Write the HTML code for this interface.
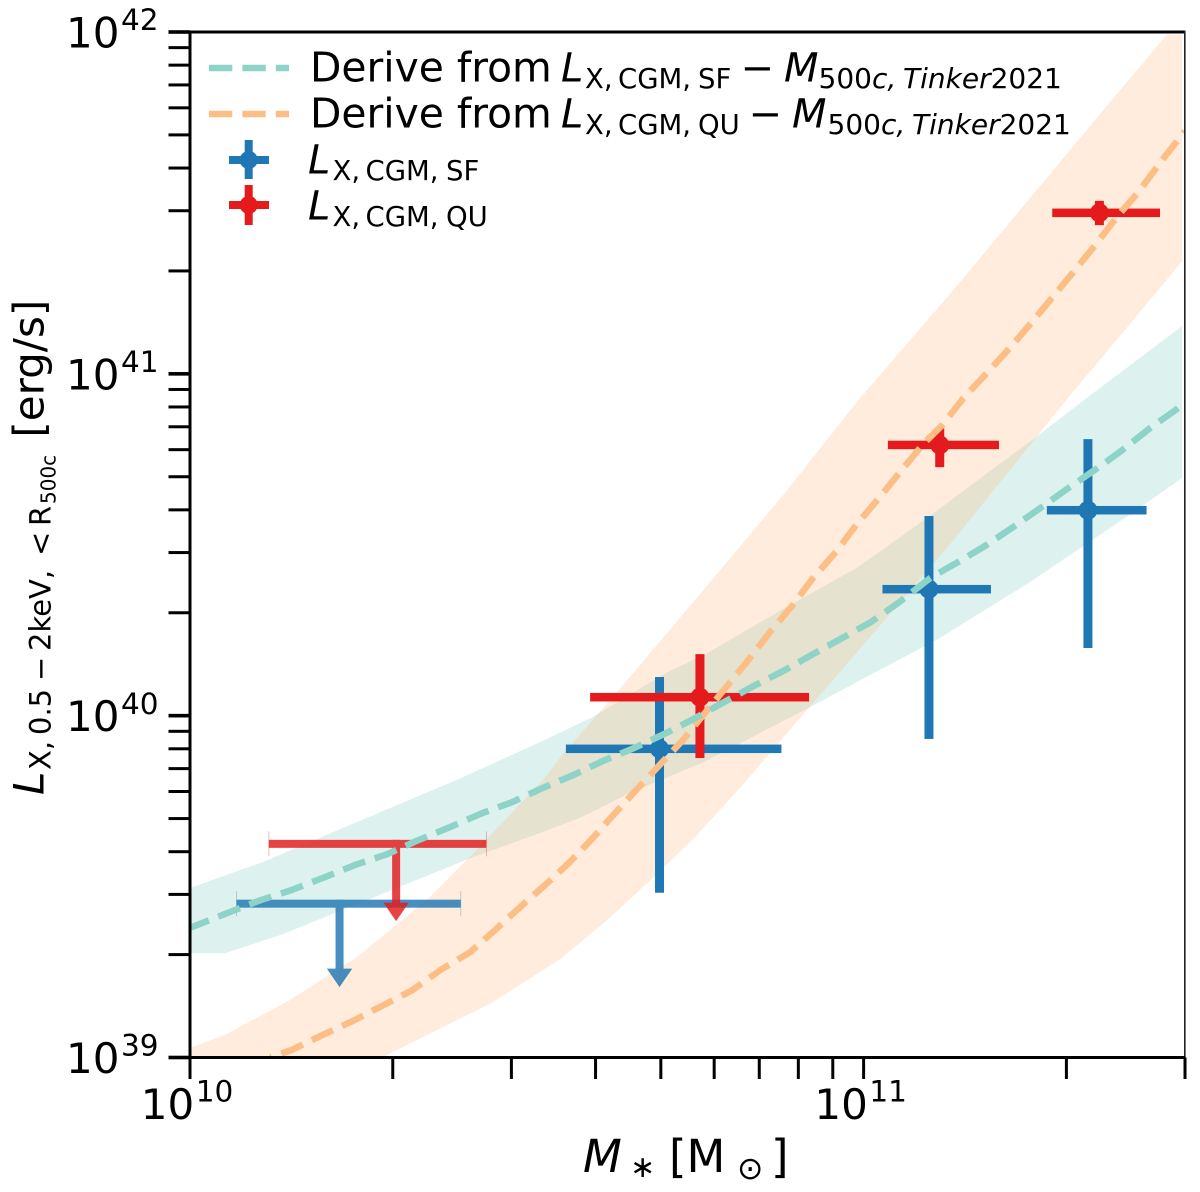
<!DOCTYPE html>
<html lang="en">
<head>
<meta charset="utf-8">
<title>X-ray CGM luminosity vs stellar mass</title>
<style>
html,body{margin:0;padding:0;background:#fff;}
svg{display:block;font-family:"DejaVu Sans","Liberation Sans",sans-serif;fill:#000;}
</style>
</head>
<body>
<svg id="chart" xmlns="http://www.w3.org/2000/svg" width="1200" height="1192" viewBox="0 0 1200 1192">
  <defs>
    <clipPath id="band-clip"><rect x="191.5" y="34.5" width="990.5" height="1022"></rect></clipPath>
    <clipPath id="line-clip"><rect x="190" y="32" width="995" height="1026"></rect></clipPath>
  </defs>
  <g id="bands" clip-path="url(#band-clip)"></g>
  <g id="errorbars"></g>
  <g id="lines" clip-path="url(#line-clip)"></g>
  <g id="axes"></g>

  <g font-size="45">
    <text x="583" y="1172" font-style="italic">M</text>
    <text x="630" y="1177" font-size="30">∗</text>
    <text x="669" y="1172">[M</text>
    <text x="737" y="1179" font-size="31.5">⊙</text>
    <text x="771" y="1172">]</text>
  </g>

  <g transform="translate(43.3,794) rotate(-90)" font-size="42">
    <text x="-1" y="0" font-style="italic">L</text>
    <text x="24" y="7.4" font-size="29">X,</text>
    <text x="59" y="7.4" font-size="29">0.5</text>
    <text x="113" y="7.4" font-size="29">−</text>
    <text x="143" y="7.4" font-size="29">2keV,</text>
    <text x="238" y="7.4" font-size="29">&lt;</text>
    <text x="268" y="7.4" font-size="29">R</text>
    <text x="290" y="12.2" font-size="20">500c</text>
    <text x="356.4" y="0">[erg/s]</text>
  </g>

  <g>
    <g>
      <line x1="209" y1="68" x2="289" y2="68" stroke="#8dd3c7" stroke-width="6.5" stroke-dasharray="23.3 10.1"></line>
      <text x="310" y="81.7" font-size="40.8">Derive from</text>
      <text x="561" y="81.7" font-size="40" font-style="italic">L</text>
      <text x="585" y="88" font-size="27.5">X,</text>
      <text x="618" y="88" font-size="27.5">CGM,</text>
      <text x="698" y="88" font-size="27.5">SF</text>
      <text x="740.5" y="81.7" font-size="40">−</text>
      <text x="784" y="81.7" font-size="40" font-style="italic">M</text>
      <text x="818.5" y="88" font-size="28">500<tspan font-style="italic">c,</tspan></text>
      <text x="903" y="88" font-size="28"><tspan font-style="italic">Tinker</tspan>2021</text>
    </g>
    <g>
      <line x1="209" y1="114" x2="289" y2="114" stroke="#fdbe85" stroke-width="6.5" stroke-dasharray="23.3 10.1"></line>
      <text x="310" y="127.7" font-size="40.8">Derive from</text>
      <text x="561" y="127.7" font-size="40" font-style="italic">L</text>
      <text x="585" y="134" font-size="27.5">X,</text>
      <text x="618" y="134" font-size="27.5">CGM,</text>
      <text x="698" y="134" font-size="27.5">QU</text>
      <text x="748.5" y="127.7" font-size="40">−</text>
      <text x="792" y="127.7" font-size="40" font-style="italic">M</text>
      <text x="827.5" y="134" font-size="28">500<tspan font-style="italic">c,</tspan></text>
      <text x="912" y="134" font-size="28"><tspan font-style="italic">Tinker</tspan>2021</text>
    </g>
    <g>
      <g fill="#1f77b4" stroke="none">
        <rect x="229" y="156" width="40" height="8"></rect>
        <rect x="244.7" y="140" width="8" height="39"></rect>
        <circle cx="248.7" cy="160" r="9"></circle>
      </g>
      <text x="308" y="173.5" font-size="40" font-style="italic">L</text>
      <text x="332.5" y="180" font-size="27.5">X,</text>
      <text x="365.5" y="180" font-size="27.5">CGM,</text>
      <text x="446" y="180" font-size="27.5">SF</text>
    </g>
    <g>
      <g fill="#e41a1c" stroke="none">
        <rect x="229" y="201" width="40" height="8"></rect>
        <rect x="244.7" y="185" width="8" height="40"></rect>
        <circle cx="248.7" cy="205" r="9"></circle>
      </g>
      <text x="308" y="219.3" font-size="40" font-style="italic">L</text>
      <text x="332.5" y="226" font-size="27.5">X,</text>
      <text x="365.5" y="226" font-size="27.5">CGM,</text>
      <text x="446" y="226" font-size="27.5">QU</text>
    </g>
  </g>
</svg>

<script>
// All masses and luminosities below are log10 values.
const xDomain = [10, 11.4771];
const yDomain = [39, 42];
const xMajorExponents = [10, 11];
const yMajorExponents = [39, 40, 41, 42];
const minorMultiples = [2, 3, 4, 5, 6, 7, 8, 9];
const tickBase = "10";

const sfLineMass = [10.000,10.048,10.104,10.151,10.197,10.245,10.293,10.339,10.386,10.434,10.478,10.523,10.569,10.616,10.659,10.707,10.753,10.793,10.840,10.883,10.922,10.968,11.011,11.053,11.099,11.140,11.180,11.222,11.262,11.304,11.347,11.384,11.425,11.463,11.477];
const sfLineLum = [39.379,39.417,39.460,39.490,39.525,39.563,39.595,39.636,39.674,39.715,39.747,39.788,39.826,39.870,39.905,39.949,39.996,40.040,40.090,40.133,40.177,40.227,40.274,40.332,40.403,40.449,40.496,40.552,40.607,40.666,40.724,40.777,40.841,40.894,40.918];
const sfUpperMass = [10.000,10.108,10.212,10.301,10.396,10.520,10.598,10.707,10.768,10.883,10.992,11.096,11.186,11.250,11.329,11.477];
const sfUpperLum = [39.496,39.572,39.659,39.733,39.812,39.923,39.996,40.125,40.183,40.315,40.435,40.581,40.713,40.806,40.926,41.146];
const sfLowerMass = [10.000,10.052,10.134,10.218,10.307,10.416,10.520,10.581,10.653,10.762,10.907,11.004,11.108,11.247,11.399,11.477];
const sfLowerLum = [39.305,39.305,39.358,39.425,39.496,39.583,39.657,39.703,39.774,39.864,40.011,40.113,40.221,40.391,40.593,40.701];

const quLineMass = [10.119,10.151,10.197,10.242,10.287,10.330,10.374,10.416,10.453,10.490,10.532,10.564,10.598,10.631,10.665,10.701,10.732,10.762,10.796,10.829,10.860,10.895,10.925,10.959,10.989,11.023,11.053,11.090,11.117,11.148,11.183,11.218,11.250,11.281,11.314,11.344,11.376,11.408,11.440,11.477];
const quLineLum = [39.001,39.022,39.066,39.107,39.153,39.197,39.259,39.308,39.373,39.440,39.513,39.572,39.642,39.715,39.788,39.864,39.929,40.002,40.084,40.163,40.242,40.324,40.403,40.479,40.558,40.637,40.710,40.798,40.850,40.929,41.002,41.078,41.152,41.225,41.304,41.377,41.459,41.532,41.617,41.710];
const quUpperMass = [10.000,10.052,10.148,10.248,10.356,10.411,10.524,10.555,10.634,10.762,10.883,10.992,11.128,11.252,11.351,11.451,11.477];
const quUpperLum = [39.028,39.066,39.168,39.294,39.469,39.578,39.812,39.891,40.069,40.367,40.651,40.923,41.233,41.526,41.760,41.994,42.060];
const quLowerMass = [10.000,10.208,10.285,10.346,10.450,10.552,10.619,10.647,10.695,10.750,10.823,10.907,11.035,11.137,11.302,11.400,11.477];
const quLowerLum = [38.788,38.934,39.000,39.060,39.162,39.291,39.402,39.452,39.540,39.645,39.803,39.996,40.288,40.522,40.926,41.157,41.339];

const sfPointMass = [10.697,11.097,11.333];
const sfPointMassLow = [10.558,11.028,11.272];
const sfPointMassHigh = [10.878,11.189,11.420];
const sfPointLum = [39.903,40.370,40.601];
const sfPointLumLow = [39.482,39.932,40.198];
const sfPointLumHigh = [40.113,40.584,40.809];

const quPointMass = [10.757,11.113,11.350];
const quPointMassLow = [10.594,11.036,11.280];
const quPointMassHigh = [10.919,11.201,11.440];
const quPointLum = [40.054,40.792,41.471];
const quPointLumLow = [39.876,40.727,41.435];
const quPointLumHigh = [40.180,40.841,41.506];

const limitSfMass = [10.222];
const limitSfMassLow = [10.069];
const limitSfMassHigh = [10.402];
const limitSfLum = [39.450];
const limitSfTip = [39.206];

const limitQuMass = [10.306];
const limitQuMassLow = [10.117];
const limitQuMassHigh = [10.440];
const limitQuLum = [39.625];
const limitQuTip = [39.399];

const plotLeft = 190, plotRight = 1185, plotTop = 32, plotBottom = 1057.5;
function xScale(v){ return plotLeft + (v - xDomain[0]) / (xDomain[1] - xDomain[0]) * (plotRight - plotLeft); }
function yScale(v){ return plotBottom - (v - yDomain[0]) / (yDomain[1] - yDomain[0]) * (plotBottom - plotTop); }

const NS = "http://www.w3.org/2000/svg";
function mk(parent, tag, attrs){
  const el = document.createElementNS(NS, tag);
  for (const k in attrs) el.setAttribute(k, attrs[k]);
  parent.appendChild(el);
  return el;
}
function pts(xs, ys){ return xs.map((x, i) => xScale(x).toFixed(1) + "," + yScale(ys[i]).toFixed(1)).join(" "); }
function rev(a){ return a.slice().reverse(); }

const bands = document.getElementById("bands");
const errorbars = document.getElementById("errorbars");
const lines = document.getElementById("lines");
const axes = document.getElementById("axes");

// Bands
{
  const el = mk(bands, "polygon", {points: pts(sfUpperMass.concat(rev(sfLowerMass)), sfUpperLum.concat(rev(sfLowerLum))), fill: "#8dd3c7", "fill-opacity": 0.3});
  
  
}
{
  const el = mk(bands, "polygon", {points: pts(quUpperMass.concat(rev(quLowerMass)), quUpperLum.concat(rev(quLowerLum))), fill: "#fdae6b", "fill-opacity": 0.24});
  
  
}

// Upper limits
function drawLimit(xc, xlo, xhi, y, tip, color){
  const g = mk(errorbars, "g", {fill: color, opacity: 0.82});
  const yy = yScale(y), tipY = yScale(tip), cx = xScale(xc), x0 = xScale(xlo), x1 = xScale(xhi);
  mk(g, "rect", {x: x0, y: yy - 4, width: x1 - x0, height: 8});
  mk(g, "rect", {x: cx - 4, y: yy - 4, width: 8, height: tipY - 18 - yy + 6});
  mk(g, "polygon", {points: (cx - 12.7) + "," + (tipY - 18.5) + " " + (cx + 12.7) + "," + (tipY - 18.5) + " " + cx + "," + tipY});
  mk(g, "rect", {x: x0 - 0.4, y: yy - 12.5, width: 0.8, height: 25, "fill-opacity": 0.45});
  mk(g, "rect", {x: x1 - 0.4, y: yy - 12.5, width: 0.8, height: 25, "fill-opacity": 0.45});
  return g;
}
const limitSf = drawLimit(limitSfMass[0], limitSfMassLow[0], limitSfMassHigh[0], limitSfLum[0], limitSfTip[0], "#1f77b4");


const limitQu = drawLimit(limitQuMass[0], limitQuMassLow[0], limitQuMassHigh[0], limitQuLum[0], limitQuTip[0], "#e41a1c");



// Measured points with error bars
function drawCross(xc, xlo, xhi, y, ylo, yhi, color){
  const g = mk(errorbars, "g", {fill: color});
  const cx = xScale(xc), cy = yScale(y);
  mk(g, "rect", {x: xScale(xlo), y: cy - 4.25, width: xScale(xhi) - xScale(xlo), height: 8.5});
  mk(g, "rect", {x: cx - 4.5, y: yScale(yhi), width: 9, height: yScale(ylo) - yScale(yhi)});
  mk(g, "circle", {cx: cx, cy: cy, r: 9.5});
  return g;
}
sfPointMass.forEach((m, i) => {
  const g = drawCross(m, sfPointMassLow[i], sfPointMassHigh[i], sfPointLum[i], sfPointLumLow[i], sfPointLumHigh[i], "#1f77b4");
  
  
});
quPointMass.forEach((m, i) => {
  const g = drawCross(m, quPointMassLow[i], quPointMassHigh[i], quPointLum[i], quPointLumLow[i], quPointLumHigh[i], "#e41a1c");
  
  
});

// Dashed model lines
{
  const el = mk(lines, "polyline", {points: pts(quLineMass, quLineLum), fill: "none", stroke: "#fdbe85", "stroke-width": 6.5, "stroke-dasharray": "23.3 10.1", "stroke-dashoffset": -11.7, "stroke-linejoin": "round"});
  
  
}
{
  const el = mk(lines, "polyline", {points: pts(sfLineMass, sfLineLum), fill: "none", stroke: "#8dd3c7", "stroke-width": 6.5, "stroke-dasharray": "23.3 10.1", "stroke-dashoffset": 3, "stroke-linejoin": "round"});
  
  
}

// Spines
{
  const el = mk(axes, "rect", {x: plotLeft - 1.5, y: plotTop - 1.5, width: 3, height: plotBottom - plotTop + 3, fill: "#000"});
  
  
}
{
  const el = mk(axes, "rect", {x: plotLeft, y: plotTop - 1.5, width: plotRight - plotLeft, height: 3, fill: "#000"});
  
  
}
{
  const el = mk(axes, "rect", {x: plotRight - 1, y: plotTop - 1.5, width: 1.6, height: plotBottom - plotTop + 3, fill: "#222"});
  
  
}
{
  const el = mk(axes, "rect", {x: plotLeft - 1.5, y: plotBottom - 1.5, width: plotRight - plotLeft + 2, height: 3, fill: "#000"});
  
  
}

// Ticks
function drawXTick(v, w){
  const el = mk(axes, "rect", {x: xScale(v) - w / 2, y: plotBottom, width: w, height: 21.5, fill: "#000"});
  return el;
}
function drawYTick(v, h){
  const el = mk(axes, "rect", {x: plotLeft - 21.5, y: yScale(v) - h / 2, width: 21.5, height: h, fill: "#000"});
  return el;
}
xMajorExponents.forEach(e => {
  const el = drawXTick(e, 3);
  
  
  minorMultiples.forEach(m => {
    const v = e + Math.log10(m);
    if (v > xDomain[1] + 0.001) return;
    const mt = drawXTick(v, 3);
    
    
  });
});
yMajorExponents.forEach(e => {
  const el = drawYTick(e, 3.6);
  
  
  minorMultiples.forEach(m => {
    const v = e + Math.log10(m);
    if (v > yDomain[1]) return;
    const mt = drawYTick(v, 3);
    
    
  });
});

// Tick labels
function tickLabel(x, y, exponent, anchor){
  const t = mk(axes, "text", {x: x, y: y, "text-anchor": anchor, "font-size": 42});
  const a = mk(t, "tspan", {});
  a.textContent = tickBase;
  const b = mk(t, "tspan", {dx: 1.5, dy: -17.3, "font-size": 29.5});
  b.textContent = String(exponent);
  return t;
}
xMajorExponents.forEach(e => {
  const t = tickLabel(xScale(e) - 3, 1119, e, "middle");
  
  
});
yMajorExponents.forEach(e => {
  const t = tickLabel(158.5, yScale(e) + 15.5, e, "end");
  
  
});
</script>
</body>
</html>
